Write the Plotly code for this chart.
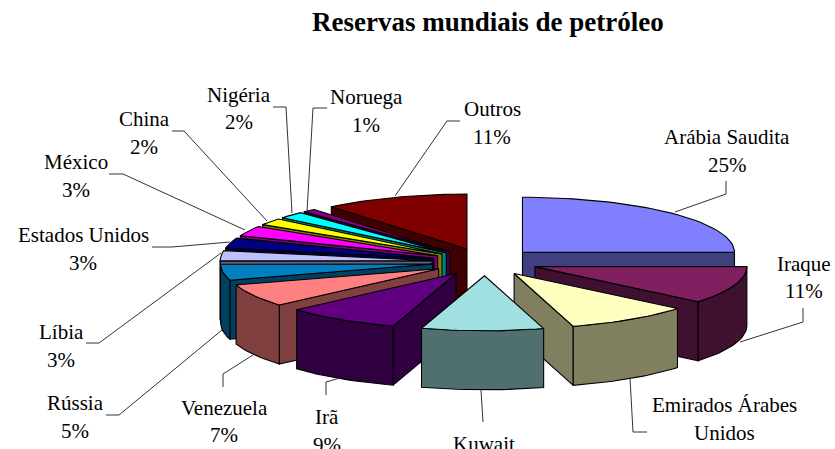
import math
import plotly.graph_objects as go

paises = ["Arábia Saudita", "Iraque", "Emirados Árabes Unidos", "Kuwait", "Irã", "Venezuela", "Rússia",
          "Líbia", "Estados Unidos", "México", "China", "Nigéria", "Noruega", "Outros"]
reservas = [25.0, 11.0, 9.5, 9.3, 8.75, 6.7, 4.7, 3.0, 3.0, 3.0, 2.0, 2.0, 1.0, 11.05]
cores_topo = ["#8080FF", "#802060", "#FFFFC0", "#A0E0E0", "#600080", "#FF8080", "#0080C0",
              "#C0C0FF", "#000080", "#FF00FF", "#FFFF00", "#00FFFF", "#800080", "#800000"]
cores_lado = ["#404080", "#401030", "#808060", "#507070", "#300040", "#804040", "#004060",
              "#606080", "#000040", "#800080", "#808000", "#008080", "#400040", "#400000"]
ordem_desenho = [13, 12, 0, 11, 10, 9, 8, 7, 6, 5, 4, 1, 2, 3]

CX, CY, RX, RY, DEPTH, EXPL = 485, 262, 212, 55, 59, 0.25

total = sum(reservas)
inicio = []
acum = 0.0
for v in reservas:
    inicio.append(acum)
    acum += v / total * 360


def pt(ang, r, ox, oy, drop=0.0):
    a = math.radians(ang)
    return ox + r * RX * math.sin(a), oy - r * RY * math.cos(a) + drop


def arc(a0, a1, ox, oy, drop=0.0):
    n = max(2, int(abs(a1 - a0) / 2) + 2)
    return [pt(a0 + (a1 - a0) * i / (n - 1), 1, ox, oy, drop) for i in range(n)]


fig = go.Figure()


def poly(points, fill):
    xs = [p[0] for p in points] + [points[0][0]]
    ys = [p[1] for p in points] + [points[0][1]]
    fig.add_trace(go.Scatter(x=xs, y=ys, mode="lines", fill="toself", fillcolor=fill,
                             line=dict(color="#000000", width=1.1), hoverinfo="skip", showlegend=False))


for i in ordem_desenho:
    a0 = inicio[i]
    a1 = a0 + reservas[i] / total * 360
    mid = math.radians((a0 + a1) / 2)
    ox = CX + EXPL * RX * math.sin(mid)
    oy = CY - EXPL * RY * math.cos(mid)
    # only the radial faces that look towards the viewer
    for a, visivel in ((a0, math.sin(math.radians(a0)) < -1e-6), (a1, math.sin(math.radians(a1)) > 1e-6)):
        if visivel:
            p = pt(a, 1, ox, oy)
            q = pt(a, 1, ox, oy, DEPTH)
            poly([(ox, oy), p, q, (ox, oy + DEPTH)], cores_lado[i])
    f0, f1 = max(a0, 90), min(a1, 270)
    if f1 > f0:
        poly(arc(f0, f1, ox, oy) + arc(f1, f0, ox, oy, DEPTH), cores_lado[i])
    poly([(ox, oy)] + arc(a0, a1, ox, oy), cores_topo[i])

lider = [
    [(675, 212), (726, 194), (726, 181)],
    [(740, 342), (803, 322), (803, 308)],
    [(630, 378), (633, 432), (647, 432)],
    [(481, 390), (483, 422)],
    [(340, 378), (326, 382), (326, 395)],
    [(253, 355), (223, 374), (223, 387)],
    [(222, 330), (119, 415), (106, 415)],
    [(221, 253), (99, 343), (86, 343)],
    [(230, 242), (172, 247), (152, 247)],
    [(245, 230), (123, 174), (109, 174)],
    [(267, 221), (184, 131), (172, 131)],
    [(292, 213), (286, 107), (273, 107)],
    [(307, 212), (313, 108), (327, 108)],
    [(395, 196), (447, 121), (460, 121)],
]
for seg in lider:
    fig.add_trace(go.Scatter(x=[p[0] for p in seg], y=[p[1] for p in seg], mode="lines",
                             line=dict(color="#333333", width=1), hoverinfo="skip", showlegend=False))

rotulos = [
    (727, 137, "Arábia Saudita"), (727, 165, "25%"),
    (804, 264, "Iraque"), (804, 291, "11%"),
    (724, 405, "Emirados Árabes"), (724, 433, "Unidos"),
    (484, 444, "Kuwait"),
    (327, 417, "Irã"), (327, 445, "9%"),
    (224, 408, "Venezuela"), (224, 435, "7%"),
    (75, 403, "Rússia"), (75, 431, "5%"),
    (61, 332, "Líbia"), (61, 360, "3%"),
    (83, 235, "Estados Unidos"), (83, 263, "3%"),
    (76, 162, "México"), (76, 190, "3%"),
    (144, 119, "China"), (144, 147, "2%"),
    (239, 95, "Nigéria"), (239, 122, "2%"),
    (366, 97, "Noruega"), (366, 125, "1%"),
    (492, 109, "Outros"), (492, 137, "11%"),
]
for x, y, t in rotulos:
    fig.add_annotation(x=x, y=y, text=t, showarrow=False, xanchor="center", yanchor="middle",
                       font=dict(family="Liberation Serif", size=21, color="#000000"))

fig.add_annotation(x=488, y=22, text="<b>Reservas mundiais de petróleo</b>", showarrow=False,
                   xanchor="center", yanchor="middle",
                   font=dict(family="Liberation Serif", size=27, color="#000000"))

fig.update_layout(width=835, height=449, margin=dict(l=0, r=0, t=0, b=0),
                  paper_bgcolor="white", plot_bgcolor="white", showlegend=False,
                  xaxis=dict(range=[0, 835], visible=False, fixedrange=True),
                  yaxis=dict(range=[449, 0], visible=False, fixedrange=True))
fig.write_html("out.html", config={"displayModeBar": False},
               post_script="document.body.style.margin='0';document.body.style.overflow='hidden';")
